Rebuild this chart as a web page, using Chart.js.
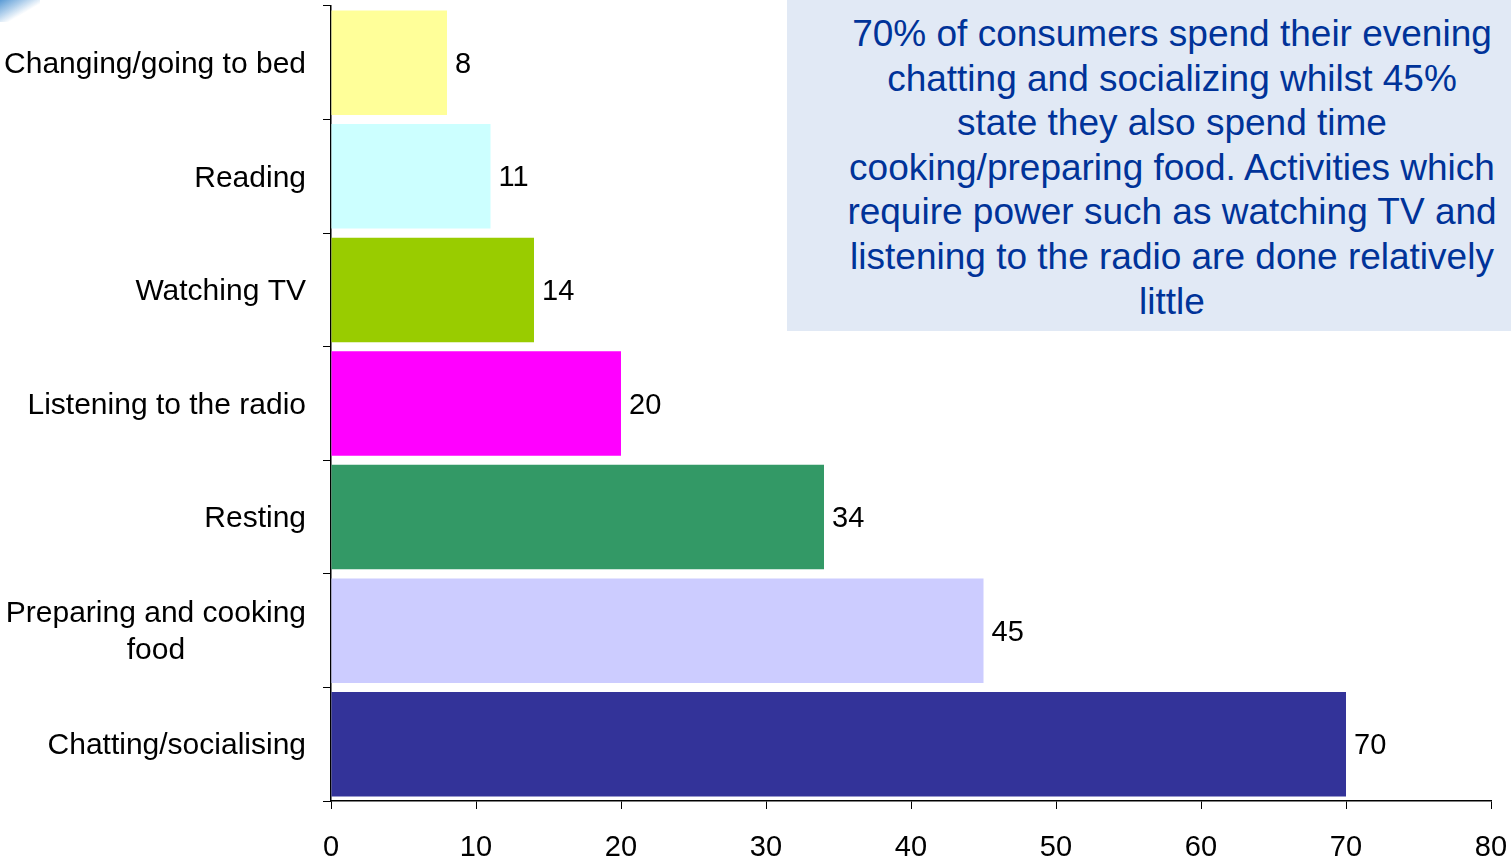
<!DOCTYPE html>
<html>
<head>
<meta charset="utf-8">
<script src="https://cdn.jsdelivr.net/npm/chart.js@4"></script>
<style>
  html, body { margin: 0; padding: 0; background: #fff; overflow: hidden; }
  #wrap { position: relative; width: 1511px; height: 862px; }
  #corner { position: absolute; left: 0; top: 0; width: 40px; height: 22px;
    background: linear-gradient(150deg, #5b9bd5 0%, #a9cbea 30%, rgba(255,255,255,0) 60%); }
  #note { position: absolute; left: 787px; top: 0; width: 724px; height: 331px;
    background: #e1e9f5; color: #003399; font-family: "Liberation Sans", Arial, sans-serif;
    font-size: 37px; line-height: 44.6px; text-align: center; box-sizing: border-box;
    padding: 12px 0 0 46px; white-space: nowrap; }
</style>
</head>
<body>
<div id="wrap">
  <canvas id="chart" width="1511" height="862"></canvas>
  <div id="corner"></div>
  <div id="note">70% of consumers spend their evening<br>chatting and socializing whilst 45%<br>state they also spend time<br>cooking/preparing food. Activities which<br>require power such as watching TV and<br>listening to the radio are done relatively<br>little</div>
</div>
<script>
// ---- data (top to bottom) ----
const categories = [
  ['Changing/going to bed'],
  ['Reading'],
  ['Watching TV'],
  ['Listening to the radio'],
  ['Resting'],
  ['Preparing and cooking', 'food'],
  ['Chatting/socialising'],
];
const shares = [8, 11, 14, 20, 34, 45, 70];
const barColours = ['#ffff99', '#ccffff', '#99cc00', '#ff00ff', '#339966', '#ccccff', '#333399'];
const xTicks = [0, 10, 20, 30, 40, 50, 60, 70, 80];

const FONT = '"Liberation Sans", Arial, sans-serif';
Chart.defaults.font.family = FONT;

// category labels: block right-aligned to the axis, lines centred inside it
const catLabels = {
  id: 'catLabels',
  afterDraw(chart) {
    const { ctx, scales: { y } } = chart;
    ctx.save();
    ctx.font = '30px ' + FONT;
    ctx.fillStyle = '#000';
    ctx.textBaseline = 'middle';
    ctx.textAlign = 'center';
    const right = y.right - 25;
    const lh = 37;
    categories.forEach((lines, i) => {
      const w = Math.max(...lines.map(l => ctx.measureText(l).width));
      const cx = right - w / 2;
      const cy = y.getPixelForValue(i) + 2;
      lines.forEach((l, j) => ctx.fillText(l, cx, cy + (j - (lines.length - 1) / 2) * lh));
    });
    ctx.restore();
  }
};

// value labels at the end of each bar
const valueLabels = {
  id: 'valueLabels',
  afterDatasetsDraw(chart) {
    const { ctx } = chart;
    const meta = chart.getDatasetMeta(0);
    ctx.save();
    ctx.font = '29px ' + FONT;
    ctx.fillStyle = '#000';
    ctx.textBaseline = 'middle';
    ctx.textAlign = 'left';
    meta.data.forEach((bar, i) => ctx.fillText(String(shares[i]), bar.x + 8, bar.y + 2));
    ctx.restore();
  }
};

new Chart(document.getElementById('chart'), {
  type: 'bar',
  data: {
    labels: categories.map(c => c.join(' ')),
    datasets: [{
      data: shares,
      backgroundColor: barColours,
      borderWidth: 0,
      barPercentage: 0.92,
      categoryPercentage: 1,
    }]
  },
  options: {
    indexAxis: 'y',
    responsive: false,
    animation: false,
    layout: { padding: { top: 6, right: 20, left: 0, bottom: 0 } },
    plugins: { legend: { display: false }, tooltip: { enabled: false } },
    scales: {
      x: {
        min: 0, max: 80,
        afterBuildTicks: s => { s.ticks = xTicks.map(v => ({ value: v })); },
        afterFit: s => { s.height = 61; s.paddingLeft = 0; s.paddingRight = 0; },
        grid: { drawOnChartArea: false, tickLength: 8, color: '#000', tickColor: '#000' },
        border: { color: '#000', width: 1.5 },
        ticks: { color: '#000', font: { size: 29 }, padding: 22, maxRotation: 0 }
      },
      y: {
        afterFit: s => { s.width = 331; },
        grid: { drawOnChartArea: false, offset: true, tickLength: 8, color: '#000', tickColor: '#000' },
        border: { color: '#000', width: 1.5 },
        ticks: { display: false }
      }
    }
  },
  plugins: [catLabels, valueLabels]
});
</script>
</body>
</html>
